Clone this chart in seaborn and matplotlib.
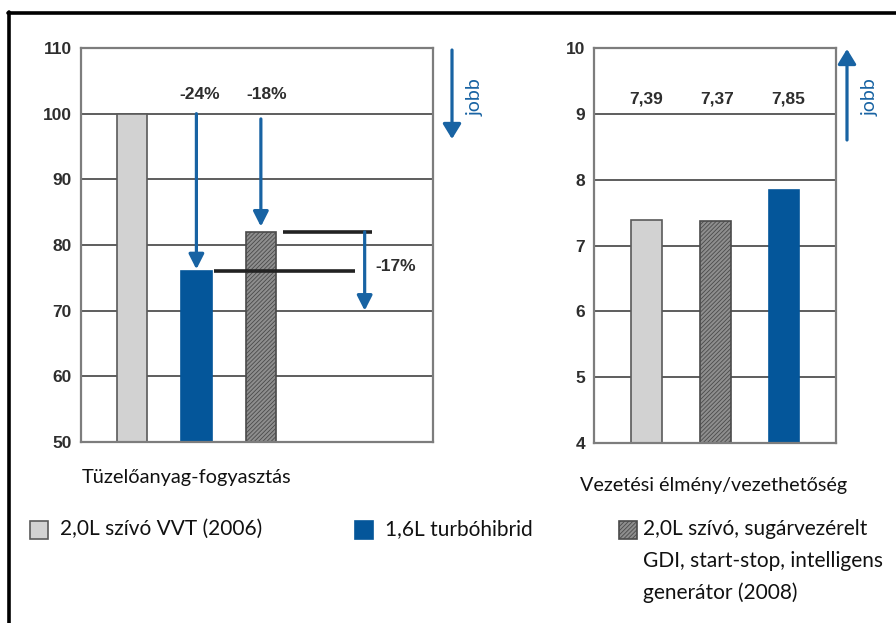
import numpy as np
import pandas as pd
import matplotlib
matplotlib.use("Agg")
import matplotlib.pyplot as plt
from matplotlib.patches import Rectangle, FancyArrowPatch
from matplotlib.lines import Line2D
import seaborn as sns

# ---- data -------------------------------------------------------------
engine_keys = ["vvt", "turbo", "gdi"]
engine_names = [
    "2,0L szívó VVT (2006)",
    "1,6L turbóhibrid",
    "2,0L szívó, sugárvezérelt\nGDI, start-stop, intelligens\ngenerátor (2008)",
]
fuel_index = [100, 76, 82]          # relative fuel consumption
fuel_order = ["vvt", "turbo", "gdi"]
fuel_change_labels = ["-24%", "-18%", "-17%"]
fuel_gap_arrow_end = 70             # lower end of the turbo-vs-gdi arrow
drive_score = [7.39, 7.85, 7.37]    # driving experience score
drive_order = ["vvt", "gdi", "turbo"]
fuel_ticks = [50, 60, 70, 80, 90, 100, 110]
drive_ticks = [4, 5, 6, 7, 8, 9, 10]
panel_titles = ["Tüzelőanyag-fogyasztás", "Vezetési élmény/vezethetőség"]
better_label = "jobb"

# ---- style ------------------------------------------------------------
W, H = 896, 623
sns.set_theme(style="white")
plt.rcParams["font.family"] = ["Lato", "DejaVu Sans"]
plt.rcParams["hatch.linewidth"] = 0.6

BLUE = "#04569a"
ARROW_BLUE = "#1863a3"
LIGHT = "#d2d2d2"
HATCH_FACE = "#8e8e8e"
HATCH_EDGE = "#4a4a4a"
GRID = "#505050"
SPINE = "#7d7d7d"
TICK_TXT = "#2e2e2e"
face = {"vvt": LIGHT, "turbo": BLUE, "gdi": HATCH_FACE}
edge = {"vvt": "#5a5a5a", "turbo": BLUE, "gdi": HATCH_EDGE}
hatch = {"vvt": None, "turbo": None, "gdi": "////////"}

df = pd.DataFrame({"key": engine_keys, "name": engine_names,
                   "fuel": fuel_index, "drive": drive_score})

fig = plt.figure(figsize=(W / 100, H / 100), dpi=100)
fig.patch.set_facecolor("white")


def px_box(x0, x1, y_top, y_bot):
    return [x0 / W, 1 - y_bot / H, (x1 - x0) / W, (y_bot - y_top) / H]


ax1 = fig.add_axes(px_box(81, 433, 48, 442))
ax2 = fig.add_axes(px_box(594, 836, 48, 443))

bold = dict(fontfamily="Liberation Sans", fontweight="bold", fontsize=12.5,
            color=TICK_TXT)


def draw_bars(ax, col, order, width):
    sns.barplot(data=df, x="key", y=col, order=order, hue="key",
                hue_order=engine_keys, palette=face, width=width,
                dodge=False, legend=False, ax=ax, saturation=1)
    for key, cont in zip(engine_keys, ax.containers):
        for p in cont:
            p.set_edgecolor(edge[key])
            p.set_linewidth(1.2)
            if hatch[key]:
                p.set_hatch(hatch[key])
            p.set_zorder(2)


def style_axes(ax, ticks):
    ax.set_ylim(ticks[0], ticks[-1])
    ax.set_yticks(ticks)
    ax.set_yticklabels([str(t) for t in ticks])
    ax.set_xticks([])
    ax.set_xlabel("")
    ax.set_ylabel("")
    ax.yaxis.grid(True, color=GRID, lw=1.3)
    ax.set_axisbelow(True)
    for s in ax.spines.values():
        s.set_visible(True)
        s.set_color(SPINE)
        s.set_linewidth(1.6)
    ax.tick_params(axis="y", length=0, pad=6.5)
    for lab in ax.get_yticklabels():
        lab.set_fontfamily("Liberation Sans")
        lab.set_fontweight("bold")
        lab.set_fontsize(12.5)
        lab.set_color(TICK_TXT)


# ---- left panel: fuel consumption -------------------------------------
draw_bars(ax1, "fuel", fuel_order, 0.47)
style_axes(ax1, fuel_ticks)
ax1.set_xlim(-0.79, 4.67)

fuel = dict(zip(engine_keys, fuel_index))
pos1 = {k: i for i, k in enumerate(fuel_order)}


def blue_arrow(ax, x, y0, y1):
    ax.annotate("", xy=(x, y1), xytext=(x, y0),
                arrowprops=dict(arrowstyle="-|>,head_length=0.75,head_width=0.38",
                                color=ARROW_BLUE, lw=2.3, shrinkA=0, shrinkB=0),
                zorder=5)


base = fuel["vvt"]
blue_arrow(ax1, pos1["turbo"], base, fuel["turbo"] + 0.3)
blue_arrow(ax1, pos1["gdi"], base - 0.8, fuel["gdi"] + 0.8)
ax1.text(pos1["turbo"] + 0.05, 102.9, fuel_change_labels[0], ha="center",
         va="center", **bold)
ax1.text(pos1["gdi"] + 0.09, 102.9, fuel_change_labels[1], ha="center",
         va="center", **bold)

# reference levels of the two newer engines
ax1.plot([1.27, 3.46], [fuel["turbo"]] * 2, color="#222222", lw=2.6,
         solid_capstyle="butt", zorder=4)
ax1.plot([2.34, 3.72], [fuel["gdi"]] * 2, color="#222222", lw=2.6,
         solid_capstyle="butt", zorder=4)
blue_arrow(ax1, 3.61, fuel["gdi"], fuel_gap_arrow_end)
ax1.text(3.77, 76.7, fuel_change_labels[2], ha="left", va="center", **bold)

# ---- right panel: driving experience ---------------------------------
draw_bars(ax2, "drive", drive_order, 0.45)
style_axes(ax2, drive_ticks)
ax2.set_xlim(-0.764, 2.756)
drive = dict(zip(engine_keys, drive_score))
for i, k in enumerate(drive_order):
    ax2.text(i + 0.03 * i, 9.22, f"{drive[k]:.2f}".replace(".", ","),
             ha="center", va="center", **bold)

# ---- "better" direction markers ---------------------------------------
def fig_arrow(x, y0, y1):
    fig.add_artist(FancyArrowPatch(
        (x / W, 1 - y0 / H), (x / W, 1 - y1 / H), transform=fig.transFigure,
        arrowstyle="-|>,head_length=9,head_width=5.5", mutation_scale=1,
        color=ARROW_BLUE, lw=2.3, shrinkA=0, shrinkB=0))


fig_arrow(452, 50, 139)
fig_arrow(847, 140, 49)
for x in (475, 870):
    fig.text(x / W, 1 - 97 / H, better_label, rotation=90, ha="center",
             va="center", color=ARROW_BLUE, fontsize=14)

# ---- panel captions and legend ---------------------------------------
fig.text(82 / W, 1 - 478 / H, panel_titles[0], ha="left", va="center",
         fontsize=14.4, color="#111111")
fig.text(580 / W, 1 - 485 / H, panel_titles[1], ha="left", va="center",
         fontsize=14.2, color="#111111")

legend_spots = {"vvt": (30, 60), "turbo": (355, 385), "gdi": (619, 643)}
for key, name in zip(engine_keys, engine_names):
    sx, tx = legend_spots[key]
    fig.add_artist(Rectangle((sx / W, 1 - 539 / H), 18 / W, 18 / H,
                             transform=fig.transFigure, facecolor=face[key],
                             edgecolor=edge[key], lw=1.2, hatch=hatch[key]))
    for j, line in enumerate(name.split("\n")):
        fig.text(tx / W, 1 - (529 + 32 * j) / H, line, ha="left",
                 va="center", fontsize=15, color="#111111")

# ---- outer frame (top and left edges) --------------------------------
fig.add_artist(Line2D([8 / W, 1], [1 - 13 / H] * 2, color="black", lw=2.6,
                      transform=fig.transFigure))
fig.add_artist(Line2D([9 / W] * 2, [0, 1 - 12 / H], color="black", lw=2.6,
                      transform=fig.transFigure))

fig.savefig("out.png", dpi=100, facecolor="white")
